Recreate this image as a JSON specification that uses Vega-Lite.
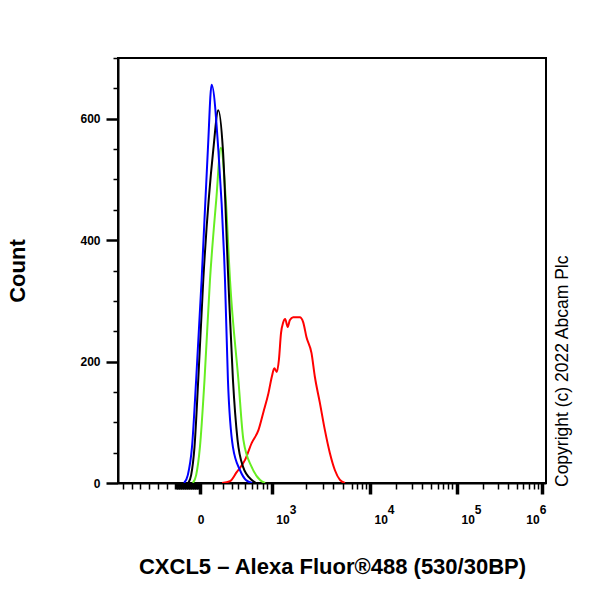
{
  "$schema": "https://vega.github.io/schema/vega-lite/v6.json",
  "description": "Flow cytometry overlay histogram, CXCL5 - Alexa Fluor 488, biexponential channel axis.",
  "autosize": {"type": "none"},
  "width": 428,
  "height": 425,
  "padding": {"left": 118, "top": 58, "right": 54, "bottom": 117},
  "background": "white",
  "config": {
    "view": {"stroke": "black", "strokeWidth": 2},
    "font": "Liberation Sans"
  },
  "title": {
    "text": "Copyright (c) 2022 Abcam Plc",
    "orient": "right",
    "frame": "group",
    "anchor": "end",
    "align": "left",
    "angle": 270,
    "offset": -10,
    "dx": -4,
    "fontSize": 17.5,
    "fontWeight": "normal",
    "font": "Liberation Sans",
    "color": "black"
  },
  "data": {
    "values": [
      {"series": "red", "channel": 249, "count": 0},
      {"series": "red", "channel": 268, "count": 3},
      {"series": "red", "channel": 284, "count": 18},
      {"series": "red", "channel": 304, "count": 38},
      {"series": "red", "channel": 320, "count": 66},
      {"series": "red", "channel": 336, "count": 87},
      {"series": "red", "channel": 348, "count": 117},
      {"series": "red", "channel": 360, "count": 148},
      {"series": "red", "channel": 368, "count": 175},
      {"series": "red", "channel": 374, "count": 189},
      {"series": "red", "channel": 380, "count": 183},
      {"series": "red", "channel": 385, "count": 203},
      {"series": "red", "channel": 390, "count": 247},
      {"series": "red", "channel": 395, "count": 264},
      {"series": "red", "channel": 400, "count": 270},
      {"series": "red", "channel": 406, "count": 257},
      {"series": "red", "channel": 411, "count": 268},
      {"series": "red", "channel": 419, "count": 273},
      {"series": "red", "channel": 435, "count": 273},
      {"series": "red", "channel": 443, "count": 265},
      {"series": "red", "channel": 451, "count": 240},
      {"series": "red", "channel": 463, "count": 214},
      {"series": "red", "channel": 471, "count": 175},
      {"series": "red", "channel": 483, "count": 132},
      {"series": "red", "channel": 495, "count": 87},
      {"series": "red", "channel": 507, "count": 49},
      {"series": "red", "channel": 519, "count": 21},
      {"series": "red", "channel": 531, "count": 5},
      {"series": "red", "channel": 543, "count": 0},
      {"series": "green", "channel": 179, "count": 0},
      {"series": "green", "channel": 187, "count": 13},
      {"series": "green", "channel": 196, "count": 59},
      {"series": "green", "channel": 207, "count": 170},
      {"series": "green", "channel": 220, "count": 334},
      {"series": "green", "channel": 235, "count": 466},
      {"series": "green", "channel": 246, "count": 552},
      {"series": "green", "channel": 258, "count": 466},
      {"series": "green", "channel": 268, "count": 334},
      {"series": "green", "channel": 288, "count": 170},
      {"series": "green", "channel": 300, "count": 71},
      {"series": "green", "channel": 320, "count": 26},
      {"series": "green", "channel": 340, "count": 5},
      {"series": "green", "channel": 352, "count": 0},
      {"series": "black", "channel": 168, "count": 0},
      {"series": "black", "channel": 175, "count": 13},
      {"series": "black", "channel": 183, "count": 59},
      {"series": "black", "channel": 192, "count": 170},
      {"series": "black", "channel": 204, "count": 334},
      {"series": "black", "channel": 228, "count": 549},
      {"series": "black", "channel": 240, "count": 614},
      {"series": "black", "channel": 251, "count": 549},
      {"series": "black", "channel": 264, "count": 334},
      {"series": "black", "channel": 275, "count": 170},
      {"series": "black", "channel": 286, "count": 71},
      {"series": "black", "channel": 299, "count": 27},
      {"series": "black", "channel": 320, "count": 5},
      {"series": "black", "channel": 330, "count": 0},
      {"series": "blue", "channel": 158, "count": 0},
      {"series": "blue", "channel": 167, "count": 13},
      {"series": "blue", "channel": 177, "count": 59},
      {"series": "blue", "channel": 187, "count": 170},
      {"series": "blue", "channel": 200, "count": 334},
      {"series": "blue", "channel": 215, "count": 549},
      {"series": "blue", "channel": 224, "count": 656},
      {"series": "blue", "channel": 240, "count": 549},
      {"series": "blue", "channel": 256, "count": 334},
      {"series": "blue", "channel": 263, "count": 170},
      {"series": "blue", "channel": 275, "count": 59},
      {"series": "blue", "channel": 292, "count": 21},
      {"series": "blue", "channel": 306, "count": 5},
      {"series": "blue", "channel": 321, "count": 0}
    ]
  },
  "mark": {"type": "line", "interpolate": "monotone", "strokeWidth": 2, "clip": true},
  "encoding": {
    "x": {
      "field": "channel",
      "type": "quantitative",
      "scale": {"domain": [0, 1024], "nice": false, "zero": false},
      "axis": {
        "title": "CXCL5 – Alexa Fluor®488 (530/30BP)",
        "titleFontSize": 22,
        "titleFontWeight": "bold",
        "titleColor": "black",
        "titlePadding": 31,
        "grid": false,
        "domainColor": "black",
        "domainWidth": 2,
        "tickColor": "black",
        "values": [12, 33, 53, 74, 96, 117, 139, 144, 148, 153, 158, 163, 167, 172, 177, 182, 187, 191, 196, 227, 251, 273, 287, 304, 321, 333, 347, 356, 368, 450, 490, 514, 538, 560, 572, 584, 593, 603, 665, 703, 727, 749, 766, 778, 790, 799, 811, 873, 909, 933, 955, 969, 983, 995, 1005, 1014],
        "tickSize": {"condition": {"test": "indexof([196, 368, 603, 811, 1014], datum.value) >= 0", "value": 11}, "value": 6},
        "tickWidth": {"condition": {"test": "indexof([196, 368, 603, 811, 1014], datum.value) >= 0 || (datum.value > 135 && datum.value < 196)", "value": 3.5}, "value": 1.5},
        "labelExpr": "datum.value == 196 ? '0' : datum.value == 368 ? ['\u200b\u00a0\u00a0\u00a0\u00a03', '10'] : datum.value == 603 ? ['\u200b\u00a0\u00a0\u00a0\u00a04', '10'] : datum.value == 811 ? ['\u200b\u00a0\u00a0\u00a0\u00a05', '10'] : datum.value == 1014 ? ['6', '10\u00a0\u00a0\u200b'] : ''",
        "labelAlign": {"condition": {"test": "datum.value == 196 || datum.value == 1014", "value": "right"}, "value": "left"},
        "labelPadding": {"condition": {"test": "datum.value == 196", "value": 20}, "value": 10},
        "labelBaseline": "top",
        "labelLineHeight": 10,
        "labelOffset": 4,
        "labelFontSize": 12,
        "labelFontWeight": "bold",
        "labelColor": "black",
        "labelOverlap": false,
        "labelFlush": false,
        "labelBound": false
      }
    },
    "y": {
      "field": "count",
      "type": "quantitative",
      "scale": {"domain": [0, 700], "nice": false},
      "axis": {
        "title": "Count",
        "titleFontSize": 22,
        "titleFontWeight": "bold",
        "titleColor": "black",
        "titlePadding": 50,
        "grid": false,
        "domainColor": "black",
        "domainWidth": 2,
        "tickColor": "black",
        "values": [0, 50, 100, 150, 200, 250, 300, 350, 400, 450, 500, 550, 600, 650, 700],
        "tickSize": {"condition": {"test": "datum.value % 200 == 0", "value": 12}, "value": 5},
        "tickWidth": {"condition": {"test": "datum.value % 200 == 0", "value": 2.5}, "value": 1.5},
        "labelExpr": "datum.value % 200 == 0 ? datum.label : ''",
        "labelPadding": 6,
        "labelFontSize": 12,
        "labelFontWeight": "bold",
        "labelColor": "black",
        "labelOverlap": false,
        "labelBound": false,
        "labelFlush": false
      }
    },
    "color": {
      "field": "series",
      "type": "nominal",
      "scale": {
        "domain": ["red", "green", "black", "blue"],
        "range": ["#ff0000", "#66ee22", "#000000", "#0000ff"]
      },
      "legend": null
    },
    "order": {"field": "channel", "type": "quantitative"}
  }
}
